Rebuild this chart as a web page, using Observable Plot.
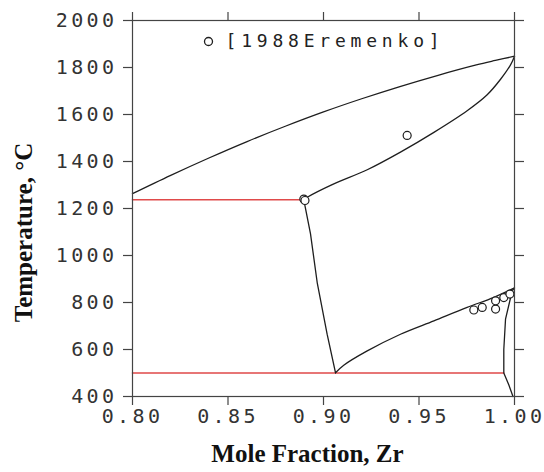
<!DOCTYPE html>
<html><head><meta charset="utf-8">
<script src="https://cdn.jsdelivr.net/npm/d3@7"></script>
<script src="https://cdn.jsdelivr.net/npm/@observablehq/plot@0.6"></script>
<style>
body{margin:0;background:#fff}
.pd g[aria-label="x-axis tick label"] text,
.pd g[aria-label="y-axis tick label"] text{letter-spacing:3.4px}
.pd .legendtxt text{letter-spacing:4.8px}
</style>
</head><body><div id="chart"></div>
<script>
const xTicks = [0.80, 0.85, 0.90, 0.95, 1.00];
const yTicks = [400, 600, 800, 1000, 1200, 1400, 1600, 1800, 2000];

const liquidusX = [0.80, 0.82, 0.84, 0.86, 0.88, 0.90, 0.92, 0.94, 0.96, 0.98, 0.99, 1.0];
const liquidusT = [1263, 1341, 1415, 1485, 1550, 1611, 1667, 1719, 1767, 1811, 1830, 1848];

const solidusX = [0.8897, 0.8915, 0.9054, 0.9229, 0.9403, 0.9578, 0.9752, 0.9857, 0.9927, 0.998, 1.0];
const solidusT = [1237, 1248, 1305, 1365, 1440, 1524, 1616, 1684, 1750, 1812, 1848];

const transusX = [0.8897, 0.8901, 0.8932, 0.8967, 0.9019, 0.9063];
const transusT = [1237, 1220, 1092, 885, 665, 501];

const lowerX = [0.9063, 0.9106, 0.9229, 0.9403, 0.9578, 0.9752, 0.9892, 1.0];
const lowerT = [501, 533, 594, 665, 722, 779, 822, 862];

const alphaX = [1.0, 0.9988, 0.9953, 0.9944, 0.9944, 0.997, 0.9992];
const alphaT = [862, 850, 729, 600, 500, 450, 400];

const peritecticX = [0.80, 0.8897];
const peritecticT = [1237, 1237];
const eutectoidX = [0.80, 0.9944];
const eutectoidT = [500, 500];

const obsX = [0.8897, 0.8903, 0.9438, 0.9787, 0.9831, 0.9901, 0.9901, 0.9944, 0.9976];
const obsT = [1240, 1234, 1511, 768, 779, 772, 807, 821, 836];

const legendLabel = ["[1988Eremenko]"];
const xTitle = ["Mole Fraction, Zr"];
const yTitle = ["Temperature, \u00B0C"];

const pts = (xs, ts) => xs.map((x, i) => ({x, t: ts[i]}));

const ink = "#1e1e1e";
const axisInk = "#444";
const red = "#e04a4a";
const mono = "DejaVu Sans Mono";
const serif = "Liberation Serif";

const chart = Plot.plot({
  width: 544, height: 472,
  marginLeft: 132, marginRight: 30, marginTop: 20, marginBottom: 76,
  className: "pd",
  style: {background: "#fff", color: "#333"},
  x: {domain: [0.8, 1.0]},
  y: {domain: [400, 2000]},
  marks: [
    Plot.line(pts(peritecticX, peritecticT), {x: "x", y: "t", stroke: red, strokeWidth: 1.6}),
    Plot.line(pts(eutectoidX, eutectoidT), {x: "x", y: "t", stroke: red, strokeWidth: 1.6}),
    Plot.line(pts(liquidusX, liquidusT), {x: "x", y: "t", stroke: ink, strokeWidth: 1.3, curve: "catmull-rom"}),
    Plot.line(pts(solidusX, solidusT), {x: "x", y: "t", stroke: ink, strokeWidth: 1.3, curve: "catmull-rom"}),
    Plot.line(pts(transusX, transusT), {x: "x", y: "t", stroke: ink, strokeWidth: 1.3}),
    Plot.line(pts(lowerX, lowerT), {x: "x", y: "t", stroke: ink, strokeWidth: 1.3, curve: "catmull-rom"}),
    Plot.line(pts(alphaX, alphaT), {x: "x", y: "t", stroke: ink, strokeWidth: 1.3}),
    Plot.dot(pts(obsX, obsT), {x: "x", y: "t", r: 4, stroke: ink, strokeWidth: 1.2, fill: "white"}),
    Plot.frame({stroke: axisInk, strokeWidth: 1.2}),
    Plot.axisX({anchor: "bottom", ticks: xTicks, tickSize: 9, tickPadding: 3, tickFormat: d3.format(".2f"),
      label: null, fontFamily: mono, fontSize: 20, stroke: axisInk, strokeWidth: 1.2}),
    Plot.axisX({anchor: "top", ticks: xTicks, tickSize: 9, tickFormat: () => "", label: null,
      stroke: axisInk, strokeWidth: 1.2}),
    Plot.axisY({anchor: "left", ticks: yTicks, tickSize: 9, tickPadding: 6, tickFormat: d => String(d),
      label: null, fontFamily: mono, fontSize: 20, stroke: axisInk, strokeWidth: 1.2}),
    Plot.axisY({anchor: "right", ticks: yTicks, tickSize: 9, tickFormat: () => "", label: null,
      stroke: axisInk, strokeWidth: 1.2}),
    Plot.dot([0], {frameAnchor: "top-left", dx: 76, dy: 21, r: 4, stroke: ink, strokeWidth: 1.3, fill: "white"}),
    Plot.text(legendLabel, {text: d => d, frameAnchor: "top-left", textAnchor: "start", lineAnchor: "middle",
      dx: 93, dy: 21, fontFamily: mono, fontSize: 18, fill: "#222", className: "legendtxt"}),
    Plot.text(xTitle, {text: d => d, frameAnchor: "bottom", textAnchor: "middle", lineAnchor: "middle", dx: -16, dy: 57,
      fontFamily: serif, fontWeight: "bold", fontSize: 25, fill: "#111"}),
    Plot.text(yTitle, {text: d => d, frameAnchor: "left", textAnchor: "middle", lineAnchor: "middle", rotate: -90,
      dx: -109, dy: 24, fontFamily: serif, fontWeight: "bold", fontSize: 25, fill: "#111"})
  ]
});
document.getElementById("chart").appendChild(chart);
</script>
</body></html>
